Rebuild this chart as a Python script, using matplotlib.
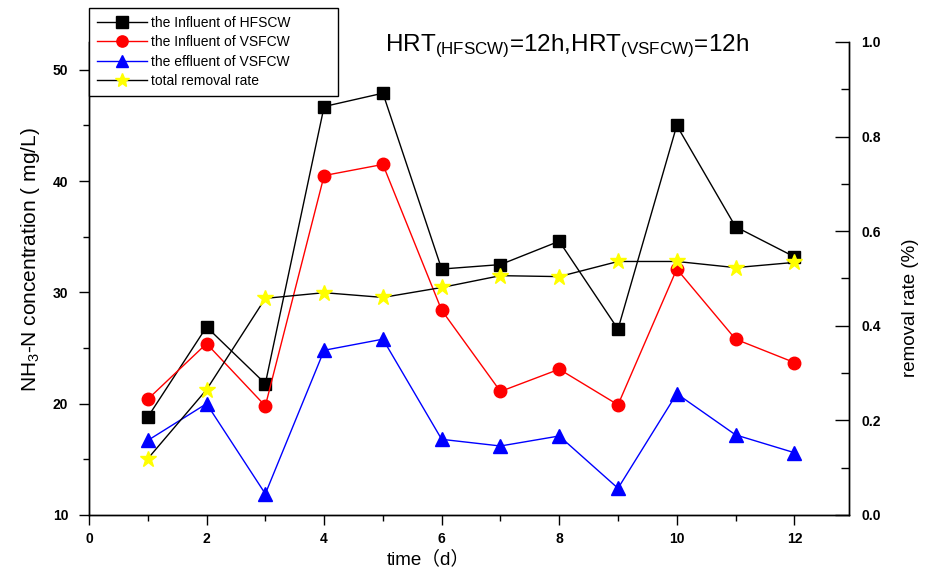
import matplotlib
matplotlib.use("Agg")
import matplotlib.pyplot as plt
from matplotlib.ticker import MultipleLocator, FormatStrFormatter

plt.rcParams['font.family'] = ['Liberation Sans', 'Noto Sans CJK SC', 'DejaVu Sans']
plt.rcParams['mathtext.fontset'] = 'custom'
plt.rcParams['mathtext.rm'] = 'Liberation Sans'
plt.rcParams['mathtext.it'] = 'Liberation Sans:italic'
plt.rcParams['mathtext.bf'] = 'Liberation Sans:bold'

days = [1, 2, 3, 4, 5, 6, 7, 8, 9, 10, 11, 12]
influent_hfscw = [18.8, 26.9, 21.8, 46.7, 47.9, 32.1, 32.5, 34.6, 26.7, 45.0, 35.9, 33.2]
influent_vsfcw = [20.4, 25.4, 19.8, 40.5, 41.5, 28.4, 21.1, 23.1, 19.9, 32.1, 25.8, 23.7]
effluent_vsfcw = [16.7, 20.0, 11.9, 24.8, 25.8, 16.8, 16.2, 17.1, 12.4, 20.9, 17.2, 15.6]
removal_rate = [0.119, 0.265, 0.458, 0.470, 0.460, 0.481, 0.506, 0.504, 0.536, 0.536, 0.523, 0.534]

labels = ['the Influent of HFSCW', 'the Influent of VSFCW',
          'the effluent of VSFCW', 'total removal rate']

fig = plt.figure(figsize=(9.29, 5.68), dpi=100)
ax = fig.add_axes([89/929, 53/568, 760/929, 473/568])
ax2 = ax.twinx()

l1, = ax.plot(days, influent_hfscw, color='black', lw=1.0, marker='s', ms=9,
              mfc='black', mec='black', label=labels[0])
l2, = ax.plot(days, influent_vsfcw, color='red', lw=1.0, marker='o', ms=9,
              mfc='red', mec='red', label=labels[1])
l3, = ax.plot(days, effluent_vsfcw, color='blue', lw=1.0, marker='^', ms=10,
              mfc='blue', mec='blue', label=labels[2])
l4, = ax2.plot(days, removal_rate, color='black', lw=1.0, marker='*', ms=12,
               mfc='yellow', mec='yellow', label=labels[3])

ax.set_xlim(0, 12.93)
ax.set_ylim(10, 52.5)
ax2.set_ylim(0, 1.0)

ax.xaxis.set_major_locator(MultipleLocator(2))
ax.xaxis.set_minor_locator(MultipleLocator(1))
ax.yaxis.set_major_locator(MultipleLocator(10))
ax.yaxis.set_minor_locator(MultipleLocator(5))
ax2.yaxis.set_major_locator(MultipleLocator(0.2))
ax2.yaxis.set_minor_locator(MultipleLocator(0.1))
ax2.yaxis.set_major_formatter(FormatStrFormatter('%.1f'))

for a in (ax, ax2):
    a.spines['top'].set_visible(False)
    for s in a.spines.values():
        s.set_linewidth(1.0)

ax.tick_params(axis='x', which='major', direction='out', length=7, width=1, pad=5)
ax.tick_params(axis='x', which='minor', direction='out', length=4, width=1)
ax.tick_params(axis='y', which='major', direction='out', length=7, width=1, pad=8)
ax.tick_params(axis='y', which='minor', direction='out', length=4, width=1)
ax2.tick_params(axis='y', which='major', direction='in', length=10, width=1, pad=9)
ax2.tick_params(axis='y', which='minor', direction='in', length=6, width=1)

for a in (ax, ax2):
    a.tick_params(labelsize=10)
for lab in ax.get_xticklabels() + ax.get_yticklabels() + ax2.get_yticklabels():
    lab.set_fontweight('bold')

ax.set_xlabel('time（d）', fontsize=13.5)
ax.xaxis.set_label_coords(0.447, -0.075)
ax.set_ylabel(r'NH$_3$-N concentration ( mg/L)', fontsize=15)
ax.yaxis.set_label_coords(-0.062, 0.54)
ax2.set_ylabel('removal rate (%)', fontsize=13.5)
ax2.yaxis.set_label_coords(1.07, 0.438)

fig.text(385/929, 1 - 46/568,
         r'HRT$_{\mathregular{(HFSCW)}}$=12h,HRT$_{\mathregular{(VSFCW)}}$=12h',
         fontsize=17.5, ha='left', va='center')

leg = fig.legend([l1, l2, l3, l4], labels, loc='upper left', mode='expand',
                 bbox_to_anchor=(89/929, 1 - 96/568, 249/929, 88/568),
                 bbox_transform=fig.transFigure,
                 borderaxespad=0, fontsize=10, frameon=True, fancybox=False,
                 edgecolor='black', framealpha=1, handlelength=3.6,
                 labelspacing=0.4, borderpad=0.55, handletextpad=0.3, markerscale=0.9)
leg.get_frame().set_linewidth(1.0)

fig.savefig('out.png', dpi=100)
